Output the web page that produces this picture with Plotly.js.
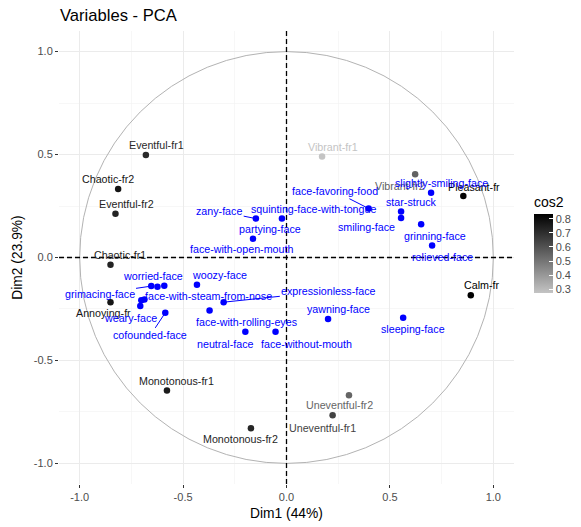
<!DOCTYPE html>
<html>
<head>
<meta charset="utf-8">
<script src="https://cdn.plot.ly/plotly-3.0.1.min.js"></script>
<style>html,body{margin:0;padding:0;background:#fff;}#chart{width:581px;height:527px;}</style>
</head>
<body>
<div id="chart"></div>
<script>
// ---- Active variables (coloured by cos2) ----
const activeNames = ["Eventful-fr1","Chaotic-fr2","Eventful-fr2","Chaotic-fr1","Annoying-fr",
  "Monotonous-fr1","Monotonous-fr2","Uneventful-fr1","Uneventful-fr2","Vibrant-fr1",
  "Vibrant-fr2","Pleasant-fr","Calm-fr"];
const activeDim1 = [-0.680,-0.814,-0.827,-0.851,-0.851,-0.578,-0.172,0.223,0.302,0.172,0.622,0.855,0.891];
const activeDim2 = [0.498,0.333,0.213,-0.035,-0.217,-0.646,-0.829,-0.766,-0.669,0.491,0.404,0.299,-0.183];
const activeCos2 = [0.71,0.77,0.73,0.73,0.77,0.75,0.72,0.64,0.54,0.27,0.55,0.82,0.83];

// ---- Supplementary variables (blue) ----
const supNames = ["slightly-smiling-face","face-favoring-food","star-struck","smiling-face","grinning-face",
  "relieved-face","yawning-face","sleeping-face","squinting-face-with-tongue","zany-face","partying-face",
  "woozy-face","expressionless-face","face-with-rolling-eyes","neutral-face","face-without-mouth",
  "grimacing-face","worried-face","face-with-open-mouth","face-with-steam-from-nose","","weary-face","cofounded-face"];
const supDim1 = [0.699,0.397,0.554,0.554,0.651,0.704,0.201,0.564,-0.022,-0.148,-0.162,
  -0.433,-0.304,-0.372,-0.199,-0.053,-0.654,-0.624,-0.591,-0.687,-0.702,-0.707,-0.586];
const supDim2 = [0.315,0.238,0.223,0.192,0.161,0.058,-0.299,-0.292,0.189,0.189,0.091,
  -0.132,-0.217,-0.257,-0.360,-0.360,-0.139,-0.142,-0.137,-0.204,-0.208,-0.236,-0.268];

// ---- Axis ticks ----
const tickVals = [-1.0,-0.5,0.0,0.5,1.0];
const tickText = ["-1.0","-0.5","0.0","0.5","1.0"];
const cbTickVals = [0.3,0.4,0.5,0.6,0.7,0.8];
const cbTickText = ["0.3","0.4","0.5","0.6","0.7","0.8"];

// ---- Layout-only: label offsets in pixels [dx, dy(down)], arrow flag ----
const labelOffsets = {
  "Eventful-fr1":[10.3,-10.3],"Chaotic-fr2":[-10.3,-10],"Eventful-fr2":[11,-10],"Chaotic-fr1":[9.7,-9.3],
  "Annoying-fr":[-7,11.3],"Monotonous-fr1":[10,-9.6],"Monotonous-fr2":[-10.7,10.3],"Uneventful-fr1":[-10.6,12.3],
  "Uneventful-fr2":[-9.4,10],"Vibrant-fr1":[11,-9.4],"Vibrant-fr2":[-14.7,11.3],"Pleasant-fr":[10.3,-9],
  "Calm-fr":[10.7,-9.7],
  "slightly-smiling-face":[10,-9.7],"face-favoring-food":[-34,-17.3,1],"star-struck":[10,-10],
  "smiling-face":[-34.7,9],"grinning-face":[14.3,11.3],"relieved-face":[10.6,11.3],"yawning-face":[10.6,-9.7],
  "sleeping-face":[10,11.7],"squinting-face-with-tongue":[32,-10],"zany-face":[-36.7,-7.3,1],
  "partying-face":[17.3,-9.3],"woozy-face":[22.3,-9.3],"expressionless-face":[105.2,-11,1],
  "face-with-rolling-eyes":[37.4,11.7],"neutral-face":[-20.7,12],"face-without-mouth":[31.4,12],
  "grimacing-face":[-51.7,7.6,1],"worried-face":[-4.6,-10.6],"face-with-open-mouth":[77.7,-37],
  "face-with-steam-from-nose":[63.7,-3.7],"weary-face":[-10,11.6],"cofounded-face":[-15,22.7,1]
};

const FONT = "Liberation Sans, Arial, Helvetica, sans-serif";
const CMIN = 0.27, CMAX = 0.83, LOWG = 196;
const colorscale = [[0,"rgb(196,196,196)"],[1,"rgb(0,0,0)"]];
function grayFor(c){
  let t = (c-CMIN)/(CMAX-CMIN); t = Math.max(0,Math.min(1,t));
  const v = Math.round(LOWG*(1-t));
  return "rgb("+v+","+v+","+v+")";
}

const W = 581, H = 527;
const PW = 455, PH = 453, ML = 59, MT = 31;

const traces = [
  {
    type:"scatter", mode:"markers", x:activeDim1, y:activeDim2, text:activeNames,
    hoverinfo:"text",
    marker:{size:6.5, color:activeCos2, colorscale:colorscale, cmin:CMIN, cmax:CMAX, line:{width:0},
      showscale:true,
      colorbar:{
        title:{text:"cos2", side:"top", font:{family:FONT, size:14, color:"#000"}},
        x:(534-ML)/PW, xanchor:"left", xref:"paper",
        y:(MT+PH-243.5)/PH, yanchor:"middle", yref:"paper",
        len:100, lenmode:"pixels", thickness:19, thicknessmode:"pixels",
        xpad:0, ypad:0, outlinewidth:0,
        ticks:"inside", ticklen:4, tickcolor:"#ffffff", tickwidth:1,
        tickvals:cbTickVals, ticktext:cbTickText,
        tickfont:{family:FONT, size:11, color:"#4d4d4d"}
      }
    },
    showlegend:false
  },
  {
    type:"scatter", mode:"markers", x:supDim1, y:supDim2, text:supNames, hoverinfo:"text",
    marker:{size:6.5, color:"#0000ff", line:{width:0}}, showlegend:false
  }
];

const annotations = [];
function addLabel(name, x, y, color){
  if(!name) return;
  const o = labelOffsets[name] || [10,-10];
  const base = {x:x, y:y, xref:"x", yref:"y", text:name,
    font:{family:FONT, size:10.7, color:color}, xanchor:"center", yanchor:"middle"};
  if(o[2]){
    annotations.push(Object.assign(base,{showarrow:true, ax:o[0], ay:o[1], arrowhead:0,
      arrowwidth:1, arrowcolor:color, standoff:0, startstandoff:0}));
  } else {
    annotations.push(Object.assign(base,{showarrow:false, xshift:o[0], yshift:-o[1]}));
  }
}
activeNames.forEach((n,i)=>addLabel(n, activeDim1[i], activeDim2[i], grayFor(activeCos2[i])));
supNames.forEach((n,i)=>addLabel(n, supDim1[i], supDim2[i], "#0000ff"));

const axisCommon = {
  range:[-1.1,1.1], tickvals:tickVals, ticktext:tickText,
  showgrid:true, gridcolor:"#ebebeb", gridwidth:1,
  minor:{dtick:0.25, tick0:0, showgrid:true, gridcolor:"#f2f2f2", gridwidth:0.6},
  zeroline:false, showline:false, automargin:false,
  ticks:"outside", ticklen:3, tickwidth:1, tickcolor:"#333333",
  tickfont:{family:FONT, size:11, color:"#4d4d4d"},
  fixedrange:true
};

const layout = {
  width:W, height:H,
  margin:{l:ML, r:W-ML-PW, t:MT, b:H-MT-PH, pad:0, autoexpand:false},
  paper_bgcolor:"#ffffff", plot_bgcolor:"#ffffff",
  font:{family:FONT},
  title:{text:"Variables - PCA", x:60/W, xanchor:"left", xref:"container",
    y:1-15/H, yanchor:"middle", yref:"container", font:{family:FONT, size:16.6, color:"#000"}},
  xaxis:Object.assign({}, axisCommon, {title:{text:"Dim1 (44%)", standoff:6, font:{family:FONT, size:13.8, color:"#000"}}}),
  yaxis:Object.assign({}, axisCommon, {title:{text:"Dim2 (23.9%)", standoff:8, font:{family:FONT, size:13.8, color:"#000"}}}),
  shapes:[
    {type:"circle", xref:"x", yref:"y", x0:-1, y0:-1, x1:1, y1:1, line:{color:"#b3b3b3", width:1}, layer:"above"},
    {type:"line", xref:"x", yref:"paper", x0:0, x1:0, y0:0, y1:1, line:{color:"#000000", width:1.3, dash:"5px,3px"}, layer:"above"},
    {type:"line", xref:"paper", yref:"y", x0:0, x1:1, y0:0, y1:0, line:{color:"#000000", width:1.3, dash:"5px,3px"}, layer:"above"}
  ],
  annotations:annotations,
  hovermode:false
};

Plotly.newPlot("chart", traces, layout, {displayModeBar:false, staticPlot:true});
</script>
</body>
</html>
